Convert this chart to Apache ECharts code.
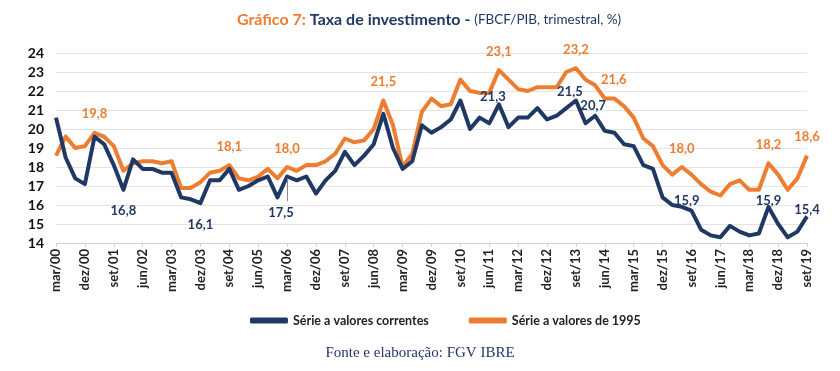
<!DOCTYPE html>
<html><head><meta charset="utf-8">
<script src="https://cdn.jsdelivr.net/npm/echarts@6/dist/echarts.min.js"></script>
<style>html,body{margin:0;padding:0;background:#fff}#c{width:840px;height:371px}</style>
</head><body><div id="c"></div>
<script>
const categories = ['mar/00','jun/00','set/00','dez/00','mar/01','jun/01','set/01','dez/01','mar/02','jun/02','set/02','dez/02',
'mar/03','jun/03','set/03','dez/03','mar/04','jun/04','set/04','dez/04','mar/05','jun/05','set/05','dez/05',
'mar/06','jun/06','set/06','dez/06','mar/07','jun/07','set/07','dez/07','mar/08','jun/08','set/08','dez/08',
'mar/09','jun/09','set/09','dez/09','mar/10','jun/10','set/10','dez/10','mar/11','jun/11','set/11','dez/11',
'mar/12','jun/12','set/12','dez/12','mar/13','jun/13','set/13','dez/13','mar/14','jun/14','set/14','dez/14',
'mar/15','jun/15','set/15','dez/15','mar/16','jun/16','set/16','dez/16','mar/17','jun/17','set/17','dez/17',
'mar/18','jun/18','set/18','dez/18','mar/19','jun/19','set/19'];

const correntes = [20.6,18.5,17.4,17.1,19.6,19.2,18.1,16.8,18.4,17.9,17.9,17.7,
17.7,16.4,16.3,16.1,17.3,17.3,17.9,16.8,17.0,17.3,17.5,16.4,
17.5,17.3,17.5,16.6,17.3,17.8,18.8,18.1,18.6,19.2,20.8,19.0,
17.9,18.3,20.2,19.8,20.1,20.5,21.5,20.0,20.6,20.3,21.3,20.1,
20.6,20.6,21.1,20.5,20.7,21.1,21.5,20.3,20.7,19.9,19.8,19.2,
19.1,18.1,17.9,16.4,16.0,15.9,15.7,14.7,14.4,14.3,14.9,14.6,
14.4,14.5,15.9,15.0,14.3,14.6,15.4];

const valores1995 = [18.6,19.6,19.0,19.1,19.8,19.6,19.1,17.8,18.2,18.3,18.3,18.2,
18.3,16.9,16.9,17.2,17.7,17.8,18.1,17.4,17.3,17.5,17.9,17.4,
18.0,17.8,18.1,18.1,18.3,18.7,19.5,19.3,19.4,20.0,21.5,20.2,
18.0,18.7,20.9,21.6,21.2,21.3,22.6,22.0,21.9,21.9,23.1,22.6,
22.1,22.0,22.2,22.2,22.2,23.0,23.2,22.6,22.3,21.6,21.6,21.2,
20.6,19.5,19.1,18.1,17.6,18.0,17.6,17.1,16.7,16.5,17.1,17.3,
16.8,16.8,18.2,17.6,16.8,17.4,18.6];

const yTicks = [14,15,16,17,18,19,20,21,22,23,24];

// indices of points that carry a value label
const labelIdxCorrentes = [7,15,24,46,54,56,65,74,78];
const labelIdx1995 = [4,18,24,34,46,54,57,65,74,78];

const NAVY = '#1F3864', ORANGE = '#ED7D31';
const FONT = 'Lato';
const fmt = v => v.toFixed(1).replace('.', ',');

// label placement styles (not data)
const corrLabelStyle = {
  7:{position:'bottom',distance:15,offset:[0,0]},
  15:{position:'bottom',distance:15,offset:[0,0]},
  24:{position:'bottom',distance:30,offset:[-6,0]},
  46:{position:'top',distance:1,offset:[-6,0]},
  54:{position:'top',distance:2,offset:[-6,0]},
  56:{position:'top',distance:3,offset:[-2,0]},
  65:{position:'top',distance:0,offset:[5,0]},
  74:{position:'top',distance:0,offset:[0,0]},
  78:{position:'top',distance:0,offset:[0,0]}
};
const r95LabelStyle = {57:{position:'top',distance:12,offset:[9,0]}};

function buildData(values, idxs, styles, color, defStyle){
  return values.map((v,i)=>{
    if(idxs.indexOf(i) < 0) return {value:v};
    const s = styles[i] || defStyle;
    return {value:v, label:{show:true, position:s.position, distance:s.distance, offset:s.offset,
      formatter: p => fmt(p.value), color:color, fontFamily:FONT, fontWeight:'bold', fontSize:13}};
  });
}

// leader line from the 17,5 point towards its label (annotation anchored on the data point)
const leaderIdx = 24;
const leader = [[{coord:[leaderIdx, correntes[leaderIdx]-0.1]},{coord:[leaderIdx-0.45, correntes[leaderIdx]-1.3]}]];

const chart = echarts.init(document.getElementById('c'), null, {renderer:'canvas'});
chart.setOption({
  animation:false,
  backgroundColor:'#fff',
  title:{
    left:424, textAlign:'center', top:7,
    text:'{a|Gráfico 7: }{b|Taxa de investimento - }{c|(FBCF/PIB, trimestral, %)}',
    textStyle:{rich:{
      a:{color:ORANGE,fontFamily:FONT,fontWeight:'bold',fontSize:16},
      b:{color:NAVY,fontFamily:FONT,fontWeight:'bold',fontSize:16},
      c:{color:NAVY,fontFamily:FONT,fontWeight:'normal',fontSize:13.5}
    }}
  },
  grid:{left:56,right:33,top:53,bottom:128,containLabel:false},
  legend:{
    left:245, top:309, itemWidth:38, itemHeight:6, itemGap:40, icon:'roundRect',
    textStyle:{fontFamily:FONT,fontWeight:'bold',fontSize:12.5,color:'#222'},
    data:['Série a valores correntes','Série a valores de 1995']
  },
  xAxis:{
    type:'category', data:categories, boundaryGap:false,
    axisLine:{lineStyle:{color:'#D0D0D0',width:1}},
    axisTick:{show:true,interval:2,length:4,lineStyle:{color:'#D0D0D0'}},
    axisLabel:{interval:2,rotate:90,fontFamily:FONT,fontWeight:'bold',fontSize:13,color:'#222',margin:6}
  },
  yAxis:{
    type:'value', min:yTicks[0], max:yTicks[yTicks.length-1], interval:1,
    axisLine:{show:false}, axisTick:{show:false},
    splitLine:{lineStyle:{color:'#E3E3E3',width:1}},
    axisLabel:{fontFamily:FONT,fontWeight:'bold',fontSize:14,color:'#111',margin:12}
  },
  series:[
    {name:'Série a valores correntes', type:'line', showSymbol:true, symbol:'circle', symbolSize:0,
     lineStyle:{color:NAVY,width:4,join:'round'}, itemStyle:{color:NAVY},
     data:buildData(correntes,labelIdxCorrentes,corrLabelStyle,NAVY,{position:'top',distance:0,offset:[0,0]}),
     markLine:{silent:true, symbol:['none','none'], label:{show:false},
       lineStyle:{color:'#8C8C8C',width:1,type:'solid'}, data:leader},
     z:3},
    {name:'Série a valores de 1995', type:'line', showSymbol:true, symbol:'circle', symbolSize:0,
     lineStyle:{color:ORANGE,width:4,join:'round'}, itemStyle:{color:ORANGE},
     data:buildData(valores1995,labelIdx1995,r95LabelStyle,ORANGE,{position:'top',distance:12,offset:[0,0]}),
     z:2}
  ],
  graphic:[{
    type:'text', left:'center', top:346,
    style:{text:'Fonte e elaboração: FGV IBRE', fill:'#26346B', font:'15px "Liberation Serif"'}
  }]
});
</script></body></html>
